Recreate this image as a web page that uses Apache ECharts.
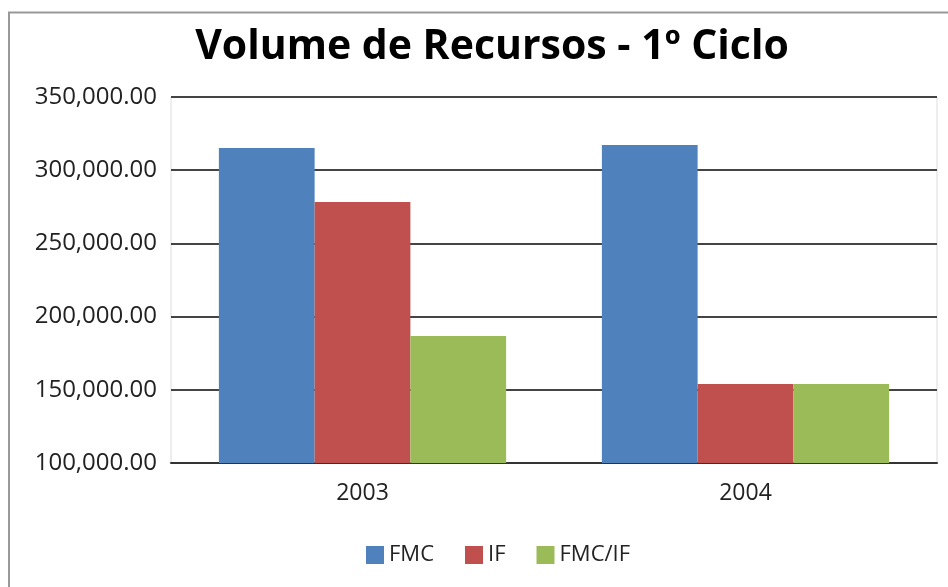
<!DOCTYPE html>
<html>
<head>
<meta charset="utf-8">
<script src="https://cdn.jsdelivr.net/npm/echarts@6/dist/echarts.min.js"></script>
<style>
    html, body { margin: 0; padding: 0; background: #fff; }
    #main { width: 948px; height: 587px; }
</style>
</head>
<body>
<div id="main"></div>
<script type="text/javascript">
    // dados
    var anos = ['2003', '2004'];
    var fmc = [315200, 317200];
    var ifv = [278200, 153900];
    var fmcIf = [186800, 153900];
    var eixoY = [100000, 150000, 200000, 250000, 300000, 350000];

    var fonte = 'Open Sans, Liberation Sans, sans-serif';

    var chart = echarts.init(document.getElementById('main'));
    var option = {
        animation: false,
        backgroundColor: '#fff',
        title: {
            text: 'Volume de Recursos - 1º Ciclo',
            left: 487,
            top: 22,
            textAlign: 'center',
            textStyle: { fontFamily: fonte, fontSize: 41, fontWeight: 'bold', color: '#000' }
        },
        graphic: [{
            type: 'polyline',
            shape: { points: [[9, 587], [9, 12.5], [948, 12.5]] },
            style: { stroke: '#999', lineWidth: 2, fill: null }
        }],
        legend: {
            data: ['FMC', 'IF', 'FMC/IF'],
            left: 361,
            top: 539,
            itemWidth: 18,
            itemHeight: 18,
            itemGap: 31,
            icon: 'rect',
            textStyle: { fontFamily: fonte, fontSize: 22, color: '#222' }
        },
        grid: {
            left: 171, right: 11, top: 97, bottom: 124,
            show: true, borderColor: '#ddd', borderWidth: 1
        },
        xAxis: {
            type: 'category',
            data: anos,
            axisLine: { show: true, lineStyle: { color: '#333', width: 2 } },
            axisTick: { show: false },
            axisLabel: { fontFamily: fonte, fontSize: 23, color: '#222', margin: 19 }
        },
        yAxis: {
            type: 'value',
            min: eixoY[0],
            max: eixoY[eixoY.length - 1],
            interval: 50000,
            axisLine: { show: false },
            axisTick: { show: false },
            splitLine: { lineStyle: { color: '#444', width: 2 } },
            axisLabel: {
                fontFamily: fonte, fontSize: 24, color: '#222', margin: 14,
                formatter: function (v) {
                    return v.toLocaleString('en-US', { minimumFractionDigits: 2, maximumFractionDigits: 2 });
                }
            }
        },
        series: [
            { name: 'FMC', type: 'bar', data: fmc, barGap: '0%', barCategoryGap: '25%',
              itemStyle: { color: '#4F81BD' } },
            { name: 'IF', type: 'bar', data: ifv,
              itemStyle: { color: '#C0504D' } },
            { name: 'FMC/IF', type: 'bar', data: fmcIf,
              itemStyle: { color: '#9BBB59' } }
        ]
    };
    chart.setOption(option);
</script>
</body>
</html>
